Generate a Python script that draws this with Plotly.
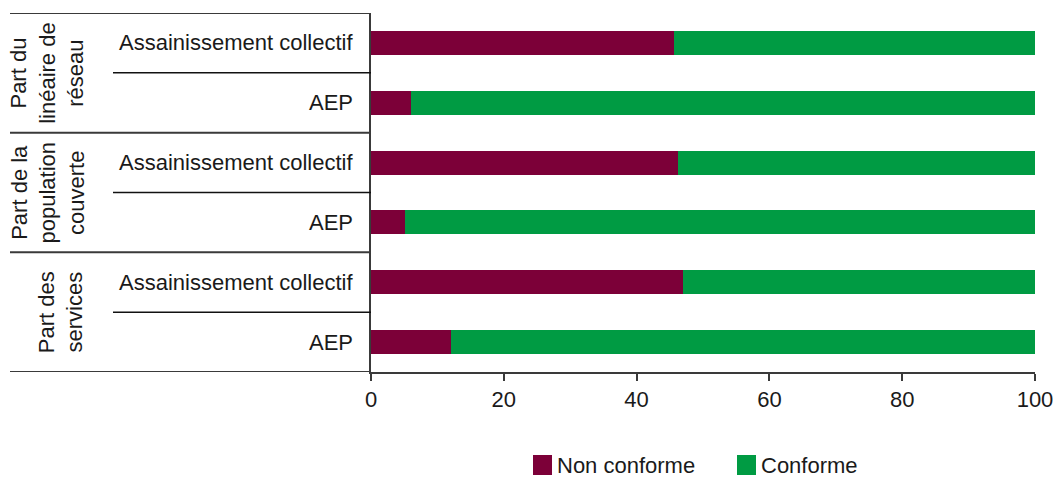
import plotly.graph_objects as go

# Data
groups = ["Part du<br>linéaire de<br>réseau", "Part de la<br>population<br>couverte", "Part des<br>services"]
subcats = ["Assainissement collectif", "AEP"]
non_conforme = [45.6, 6.0, 46.3, 5.1, 47.0, 12.0]
conforme = [100 - v for v in non_conforme]
series_names = ["Non conforme", "Conforme"]
colors = ["#7C0038", "#009B43"]
x_ticks = [0, 20, 40, 60, 80, 100]

W, H = 1055, 477
ML, MR, MT, MB = 371, 20, 13, 105
PW = W - ML - MR
PH = H - MT - MB
FONT = "Liberation Sans, Arial, sans-serif"
TXT = "#1a1a1a"
LINE = "#3a3a3a"


def px_x(p):
    return (p - ML) / PW


def px_y(p):
    return (H - MB - p) / PH


labels = [s for _ in groups for s in subcats]
ypos = list(range(len(labels)))

fig = go.Figure()
for name, vals, col in zip(series_names, [non_conforme, conforme], colors):
    fig.add_trace(go.Bar(
        x=vals, y=ypos, orientation="h", name=name,
        marker=dict(color=col, line=dict(width=0)),
        width=0.4, showlegend=False, hoverinfo="x+name",
    ))

shapes = []
annotations = []

# Row labels
for i, lab in enumerate(labels):
    annotations.append(dict(
        x=0, xref="paper", y=i, yref="y", xshift=-16,
        text=lab, showarrow=False, xanchor="right", yanchor="middle",
        font=dict(family=FONT, size=22, color=TXT),
    ))

# Group labels and separators
n_sub = len(subcats)
for g, gl in enumerate(groups):
    centre = g * n_sub + (n_sub - 1) / 2
    annotations.append(dict(
        x=px_x(90), xref="paper", y=centre, yref="y",
        text=gl, showarrow=False, xanchor="right", yanchor="middle",
        textangle=-90, align="center",
        font=dict(family=FONT, size=22, color=TXT),
    ))
    top = g * n_sub - 0.5
    shapes.append(dict(type="line", xref="paper", yref="y",
                       x0=px_x(10), x1=0, y0=top, y1=top,
                       line=dict(color=LINE, width=2)))
    for k in range(1, n_sub):
        yy = g * n_sub + k - 0.5
        shapes.append(dict(type="line", xref="paper", yref="y",
                           x0=px_x(113), x1=0, y0=yy, y1=yy,
                           line=dict(color="#111111", width=1.5)))
bottom = len(labels) - 0.5
shapes.append(dict(type="line", xref="paper", yref="y",
                   x0=px_x(10), x1=0, y0=bottom, y1=bottom,
                   line=dict(color=LINE, width=2)))

# Legend drawn below the axis
legend_items = [(series_names[0], colors[0], 533), (series_names[1], colors[1], 737)]
ly = 465
for name, col, lx in legend_items:
    shapes.append(dict(type="rect", xref="paper", yref="paper",
                       x0=px_x(lx), x1=px_x(lx + 19),
                       y0=px_y(ly + 10), y1=px_y(ly - 10),
                       fillcolor=col, line=dict(width=0)))
    annotations.append(dict(
        x=px_x(lx + 22), xref="paper", y=px_y(ly), yref="paper",
        text=name, showarrow=False, xanchor="left", yanchor="middle",
        font=dict(family=FONT, size=22, color=TXT),
    ))

fig.update_layout(
    barmode="stack",
    width=W, height=H,
    margin=dict(l=ML, r=MR, t=MT, b=MB, pad=0, autoexpand=False),
    paper_bgcolor="white", plot_bgcolor="white",
    shapes=shapes, annotations=annotations,
    font=dict(family=FONT, size=22, color=TXT),
    xaxis=dict(
        range=[0, 100], tickvals=x_ticks, showgrid=False, zeroline=False,
        showline=True, linecolor=LINE, linewidth=2, automargin=False,
        ticks="outside", ticklen=7, tickwidth=1.5, tickcolor=LINE,
        tickfont=dict(family=FONT, size=22, color=TXT),
    ),
    yaxis=dict(
        range=[len(labels) - 0.5, -0.5], showticklabels=False,
        showgrid=False, zeroline=False, showline=True, automargin=False,
        linecolor=LINE, linewidth=2, ticks="",
    ),
)

fig.write_html("out.html")
